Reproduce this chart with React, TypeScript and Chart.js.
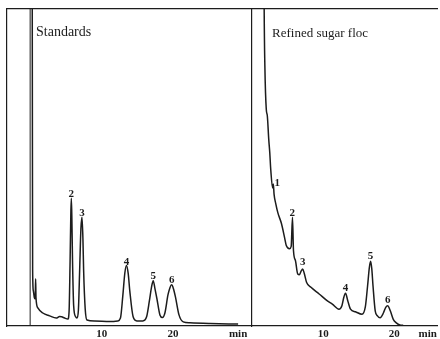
import React, { useEffect, useRef } from "react";
import { Chart, registerables } from "chart.js";
Chart.register(...registerables);

// ---- Data (retention time in min, detector response in relative units) ----
const leftTimes = [0.24, 0.27, 0.30, 0.40, 0.55, 0.66, 0.72, 0.77, 1.03, 1.73, 2.68, 3.62, 4.08, 4.37, 4.79, 5.25, 5.42, 5.56, 5.66, 5.73, 5.80, 5.90, 6.06, 6.34, 6.52, 6.72, 6.90, 7.08, 7.23, 7.36, 7.46, 7.68, 7.93, 9.01, 11.13, 12.25, 12.63, 12.96, 13.25, 13.48, 13.72, 13.94, 14.41, 14.93, 15.77, 16.30, 16.69, 16.98, 17.23, 17.48, 17.75, 18.17, 18.52, 18.87, 19.30, 19.58, 19.82, 20.08, 20.35, 20.85, 21.45, 22.39, 25.21, 29.15];
const leftValues = [110, 55.6, 17.5, 11.1, 8.9, 8.6, 14.9, 8.9, 5.7, 4.1, 3.2, 2.5, 3.0, 2.9, 2.5, 2.2, 4.8, 20.6, 34.9, 40.3, 34.9, 20.6, 6.4, 2.9, 2.5, 4.8, 17.5, 30.8, 34.3, 27.6, 17.5, 5.4, 1.9, 1.6, 1.4, 1.6, 2.5, 9.5, 16.8, 19.1, 16.5, 11.1, 2.9, 1.6, 1.6, 2.9, 7.9, 12.1, 14.3, 11.7, 8.6, 3.5, 2.7, 4.1, 9.8, 12.1, 13.0, 11.7, 9.2, 3.5, 1.3, 1.0, 0.8, 0.6];

const rightTimes = [1.69, 1.71, 1.81, 2.01, 2.15, 2.36, 2.50, 2.64, 2.90, 3.00, 3.10, 3.33, 3.65, 4.13, 4.58, 4.82, 5.28, 5.51, 5.69, 5.83, 6.11, 6.43, 6.67, 6.90, 7.13, 7.36, 7.68, 8.29, 9.44, 10.60, 11.29, 12.22, 12.64, 12.90, 13.15, 13.47, 13.85, 14.54, 15.46, 15.93, 16.25, 16.50, 16.67, 16.84, 17.01, 17.32, 17.64, 18.01, 18.47, 18.80, 19.07, 19.44, 19.86, 20.28, 20.79, 21.25];
const rightValues = [110, 100.2, 81.9, 68.3, 66.4, 58.7, 54.6, 49.2, 43.5, 44.8, 41.6, 38.7, 35.6, 32.4, 27.9, 25.4, 24.4, 25.1, 34.3, 23.8, 20.6, 16.4, 16.2, 17.3, 18.0, 16.5, 13.7, 12.2, 10.1, 7.9, 6.9, 5.3, 6.4, 9.0, 10.3, 7.9, 5.3, 4.5, 3.7, 6.0, 12.7, 18.5, 20.4, 18.0, 12.7, 4.8, 3.2, 2.6, 4.1, 5.9, 6.4, 4.8, 2.1, 1.0, 0.3, 0.2];

// Peak label anchors
const leftPeakNames = ["2", "3", "4", "5", "6"];
const leftPeakTimes = [5.73, 7.23, 13.48, 17.23, 19.82];
const leftPeakLabelValues = [40.6, 34.6, 19.4, 14.9, 13.7];
const rightPeakNames = ["1", "2", "3", "4", "5", "6"];
const rightPeakTimes = [3.55, 5.65, 7.13, 13.15, 16.67, 19.07];
const rightPeakLabelValues = [44.2, 34.7, 19.1, 11.1, 21.2, 7.2];

// Axis tick labels
const tickValues = [10, 20];
const unitLabel = "min";
const leftUnitPos = 29.15;
const rightUnitPos = 24.7;
const panelTitles = ["Standards", "Refined sugar floc"];

const SERIF = "'Liberation Serif', 'Times New Roman', serif";
const INK = "#1c1c1c";

function peakLabelPlugin(names: string[], times: number[], values: number[]) {
  return {
    id: "peakLabels",
    afterDatasetsDraw(chart: any) {
      const { ctx, scales } = chart;
      ctx.save();
      ctx.font = `bold 11px ${SERIF}`;
      ctx.fillStyle = INK;
      ctx.textAlign = "center";
      ctx.textBaseline = "alphabetic";
      names.forEach((n, i) => {
        ctx.fillText(n, scales.x.getPixelForValue(times[i]), scales.y.getPixelForValue(values[i]));
      });
      ctx.restore();
    },
  };
}

function makeConfig(
  times: number[],
  values: number[],
  xMin: number,
  xMax: number,
  unitPos: number,
  names: string[],
  lt: number[],
  lv: number[],
  withMarker: boolean,
  padLeft: number
): any {
  const datasets: any[] = [
    {
      data: times.map((t, i) => ({ x: t, y: values[i] })),
      borderColor: INK,
      borderWidth: 1.5,
      pointRadius: 0,
      fill: false,
      cubicInterpolationMode: "monotone",
    },
  ];
  if (withMarker) {
    datasets.push({
      data: [
        { x: -0.05, y: 0 },
        { x: -0.05, y: 100 },
      ],
      borderColor: INK,
      borderWidth: 1,
      pointRadius: 0,
      fill: false,
    });
  }
  return {
    type: "line",
    data: { datasets },
    options: {
      animation: false,
      responsive: false,
      devicePixelRatio: 1,
      layout: { padding: { left: padLeft, top: 9, right: 0, bottom: -4 } },
      plugins: { legend: { display: false }, tooltip: { enabled: false } },
      scales: {
        x: {
          type: "linear",
          position: "bottom",
          min: xMin,
          max: xMax,
          grid: { display: false, drawTicks: false },
          border: { display: true, color: INK, width: 1.2 },
          afterBuildTicks: (s: any) => {
            s.ticks = [...tickValues, unitPos].map((v) => ({ value: v }));
          },
          ticks: {
            autoSkip: false,
            maxRotation: 0,
            padding: 3,
            color: INK,
            font: { family: SERIF, size: 11, weight: "bold", lineHeight: 1 },
            callback: (v: number) => (v === unitPos ? unitLabel : String(v)),
          },
        },
        x2: {
          type: "linear",
          position: "top",
          display: true,
          min: 0,
          max: 1,
          grid: { display: false, drawTicks: false },
          ticks: { display: false },
          border: { display: true, color: INK, width: 1.2 },
        },
        y: {
          type: "linear",
          min: 0,
          max: 100,
          display: true,
          grid: { display: false, drawTicks: false },
          ticks: { display: false },
          border: { display: true, color: INK, width: 1.2 },
        },
      },
    },
    plugins: [peakLabelPlugin(names, lt, lv)],
  };
}

export default function App() {
  const leftRef = useRef<HTMLCanvasElement>(null);
  const rightRef = useRef<HTMLCanvasElement>(null);

  useEffect(() => {
    const l = new Chart(
      leftRef.current!,
      makeConfig(leftTimes, leftValues, -3.3, 31.1, leftUnitPos, leftPeakNames, leftPeakTimes, leftPeakLabelValues, true, 7)
    );
    const r = new Chart(
      rightRef.current!,
      makeConfig(rightTimes, rightValues, 0, 26.1, rightUnitPos, rightPeakNames, rightPeakTimes, rightPeakLabelValues, false, 1)
    );
    return () => {
      l.destroy();
      r.destroy();
    };
  }, []);

  const titleStyle: React.CSSProperties = {
    position: "absolute",
    fontFamily: SERIF,
    color: INK,
    whiteSpace: "pre",
  };

  return (
    <div style={{ position: "absolute", left: 0, top: 0, width: 440, height: 339, background: "#fff", overflow: "hidden" }}>
      <canvas ref={leftRef} width={252} height={339} style={{ position: "absolute", left: 0, top: 0, width: 252, height: 339 }} />
      <canvas ref={rightRef} width={189} height={339} style={{ position: "absolute", left: 251, top: 0, width: 189, height: 339 }} />
      <div style={{ ...titleStyle, left: 36, top: 25, fontSize: 14, lineHeight: "14px" }}>{panelTitles[0]}</div>
      <div style={{ ...titleStyle, left: 272, top: 26, fontSize: 13, lineHeight: "13px" }}>{panelTitles[1]}</div>
    </div>
  );
}
